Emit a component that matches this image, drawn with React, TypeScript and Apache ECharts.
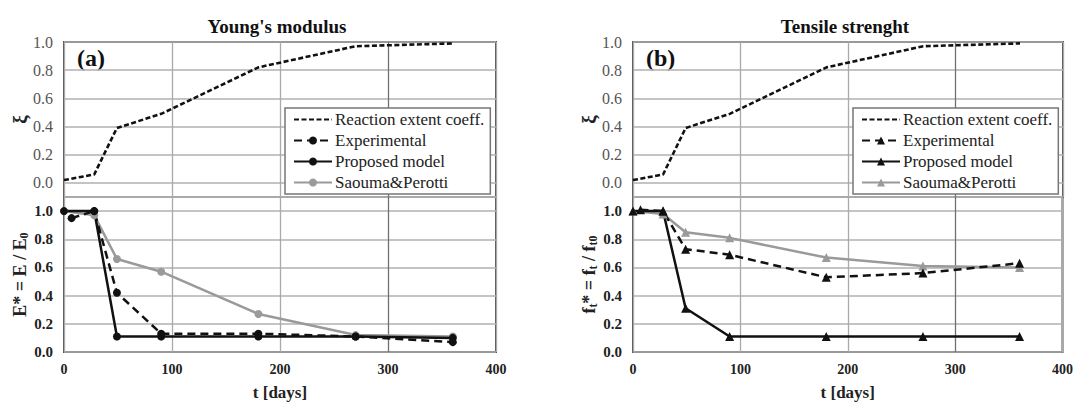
import React, { useEffect, useRef } from "react";
import * as echarts from "echarts";

// ---- data ----
const tModel = [0, 28, 49, 90, 180, 270, 360];
const tExp = [7, 28, 49, 90, 180, 270, 360];
const xiValues = [0.02, 0.06, 0.39, 0.49, 0.82, 0.97, 0.99];
const eExp = [0.95, 1.0, 0.42, 0.13, 0.13, 0.11, 0.07];
const eModel = [1.0, 1.0, 0.11, 0.11, 0.11, 0.11, 0.1];
const eSaouma = [1.0, 0.97, 0.66, 0.57, 0.27, 0.12, 0.11];
const fExp = [1.01, 1.0, 0.73, 0.69, 0.53, 0.56, 0.63];
const fModel = [1.0, 1.0, 0.31, 0.11, 0.11, 0.11, 0.11];
const fSaouma = [1.0, 0.98, 0.85, 0.81, 0.67, 0.61, 0.6];
const legendNames = ["Reaction extent coeff.", "Experimental", "Proposed model", "Saouma&Perotti"];
const panelTitles = ["Young's modulus", "Tensile strenght"];
const panelTags = ["(a)", "(b)"];

const FONT = "Liberation Serif";
const GREY = "#9a9a9a";

const pair = (xs: number[], ys: number[]) => xs.map((x, i) => [x, ys[i]]);

function buildOption() {
  const leftX = [64, 633];
  const widths = [432, 430];
  const grids: any[] = [];
  const xAxes: any[] = [];
  const yAxes: any[] = [];
  const series: any[] = [];
  const legends: any[] = [];
  const titles: any[] = [];
  const graphics: any[] = [];

  for (let p = 0; p < 2; p++) {
    const suffix = p === 0 ? "" : "#b";
    const sym = p === 0 ? "circle" : "triangle";
    const symSize = p === 0 ? 8 : 9;
    const topIdx = p * 2;
    const botIdx = p * 2 + 1;
    grids.push({ left: leftX[p], top: 42, width: widths[p], height: 155, show: true, borderColor: "#555", borderWidth: 2, backgroundColor: "transparent" });
    grids.push({ left: leftX[p], top: 197, width: widths[p], height: 155, show: true, borderColor: "#555", borderWidth: 2, backgroundColor: "transparent" });

    const splitX = { show: true, lineStyle: { color: ["#aaa", "#aaa", "#aaa", "#707070", "#aaa"], width: 1.3 } };
    xAxes.push({ gridIndex: topIdx, type: "value", min: 0, max: 400, interval: 100, axisLabel: { show: false }, axisLine: { show: false }, axisTick: { show: false }, splitLine: splitX });
    xAxes.push({
      gridIndex: botIdx, type: "value", min: 0, max: 400, interval: 100,
      axisLabel: { show: true, fontFamily: FONT, fontWeight: "bold", fontSize: 14, color: "#222", margin: 10 },
      axisLine: { show: false }, axisTick: { show: false }, splitLine: splitX,
      name: "t [days]", nameLocation: "middle", nameGap: 32,
      nameTextStyle: { fontFamily: FONT, fontWeight: "bold", fontSize: 17, color: "#222" },
    });
    yAxes.push({
      gridIndex: topIdx, type: "value", min: -0.1, max: 1.0,
      axisLabel: { fontFamily: FONT, fontSize: 16, color: "#555", margin: 11, formatter: (v: number) => (v < -0.001 ? "" : v.toFixed(1)) },
      axisLine: { show: false }, axisTick: { show: false },
      splitLine: { show: true, lineStyle: { color: "#b0b0b0", width: 1.5 } },
      name: "ξ", nameLocation: "middle", nameGap: 30, nameRotate: 90,
      nameTextStyle: { fontFamily: FONT, fontWeight: "bold", fontSize: 19, color: "#222" },
    });
    const yName = p === 0 ? "E* = E / E{s|0}" : "f{s|t}* = f{s|t} / f{s|t0}";
    yAxes.push({
      gridIndex: botIdx, type: "value", min: 0, max: 1.1,
      axisLabel: { fontFamily: FONT, fontWeight: "bold", fontSize: 15, color: "#222", margin: 11, formatter: (v: number) => (v > 1.05 ? "" : v.toFixed(1)) },
      axisLine: { show: false }, axisTick: { show: false },
      splitLine: { show: true, lineStyle: { color: "#b0b0b0", width: 1.5 } },
      name: yName, nameLocation: "middle", nameGap: 28, nameRotate: 90,
      nameTextStyle: {
        fontFamily: FONT, fontWeight: "bold", fontSize: 18, color: "#222", lineHeight: 20,
        rich: { s: { fontFamily: FONT, fontWeight: "bold", fontSize: 12, color: "#222", verticalAlign: "bottom", lineHeight: 12 } },
      },
    });

    series.push({
      name: legendNames[0] + suffix, type: "line", xAxisIndex: topIdx, yAxisIndex: topIdx,
      data: pair(tModel, xiValues), symbol: "circle", symbolSize: 0, showSymbol: false,
      lineStyle: { color: "#111", width: 2.6, type: [5, 2.5] }, itemStyle: { color: "#111", opacity: 0 },
    });
    const expData = pair(tExp, p === 0 ? eExp : fExp);
    const modData = pair(tModel, p === 0 ? eModel : fModel);
    const saoData = pair(tModel, p === 0 ? eSaouma : fSaouma);
    series.push({
      name: legendNames[3] + suffix, type: "line", xAxisIndex: botIdx, yAxisIndex: botIdx,
      data: saoData, symbol: sym, symbolSize: symSize,
      lineStyle: { color: GREY, width: 2.5 }, itemStyle: { color: GREY },
    });
    series.push({
      name: legendNames[2] + suffix, type: "line", xAxisIndex: botIdx, yAxisIndex: botIdx,
      data: modData, symbol: sym, symbolSize: symSize,
      lineStyle: { color: "#111", width: 2.5 }, itemStyle: { color: "#111" },
    });
    series.push({
      name: legendNames[1] + suffix, type: "line", xAxisIndex: botIdx, yAxisIndex: botIdx,
      data: expData, symbol: sym, symbolSize: symSize,
      lineStyle: { color: "#111", width: 2.5, type: [8, 5] }, itemStyle: { color: "#111" },
    });

    legends.push({
      data: legendNames.map((n) => n + suffix),
      orient: "vertical", left: p === 0 ? 285 : 853, top: 108,
      itemWidth: 38, itemHeight: 10, itemGap: 4,
      padding: [3, 6, 3, 8],
      backgroundColor: "#fff", borderColor: "#777", borderWidth: 1.5,
      formatter: (n: string) => n.split("#")[0],
      textStyle: { fontFamily: FONT, fontSize: 17, color: "#222", padding: [0, 0, 0, -2] },
      selectedMode: false,
    });

    titles.push({
      text: panelTitles[p], left: p === 0 ? 272 : 840, top: 12, textAlign: "center",
      textStyle: { fontFamily: FONT, fontWeight: "bold", fontSize: 19, color: "#111" },
    });

    graphics.push({
      type: "text", left: p === 0 ? 77 : 646, top: 46,
      style: { text: panelTags[p], fontFamily: FONT, fontWeight: "bold", fontSize: 24, fill: "#111" },
    });
  }

  return {
    animation: false,
    backgroundColor: "#fff",
    title: titles,
    grid: grids,
    xAxis: xAxes,
    yAxis: yAxes,
    legend: legends,
    series,
    graphic: graphics,
  };
}

export default function App() {
  const ref = useRef<HTMLDivElement>(null);
  useEffect(() => {
    if (!ref.current) return;
    const chart = echarts.init(ref.current, undefined, { renderer: "svg" });
    chart.setOption(buildOption());
    return () => chart.dispose();
  }, []);
  return <div ref={ref} style={{ position: "absolute", left: 0, top: 0, width: 1076, height: 402 }} />;
}
